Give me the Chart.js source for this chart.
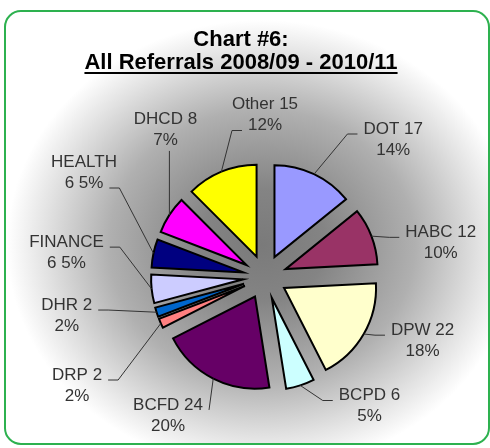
<!DOCTYPE html>
<html>
<head>
	<meta charset="utf-8">
	<title>Chart #6</title>
	<script type="text/javascript" src="https://cdn.jsdelivr.net/npm/chart.js"></script>
	<style type="text/css">
	body { margin: 0; background: #fff; }
	canvas { display: block; }
	</style>
</head>
<body>

<canvas id="myChart" width="490" height="448"></canvas>

<script>
// values, clockwise from 12 o'clock
const categories = ['DOT', 'HABC', 'DPW', 'BCPD', 'BCFD', 'DRP', 'DHR', 'FINANCE', 'HEALTH', 'DHCD', 'Other'];
const referrals = [17, 12, 22, 6, 24, 2, 2, 6, 6, 8, 15];
const percentLabels = [14, 10, 18, 5, 20, 2, 2, 5, 5, 7, 12];
const sliceColors = ['#9999FF', '#993366', '#FFFFCC', '#CCFFFF', '#660066', '#FF8080', '#0066CC', '#CCCCFF', '#000080', '#FF00FF', '#FFFF00'];

const titleLines = ['Chart #6:', 'All Referrals 2008/09 - 2010/11'];

// where the label boxes sit: [clock angle in degrees, distance from pie centre]
const labelSpots = [[43, 188], [79, 179], [112, 170], [141, 166], [215, 169], [240, 217], [259, 202], [277, 200], [300, 209], [326, 178], [0, 162]];
// which text line the leader line hooks onto
const tickLine = [0, 0, 0, 0, 0, 0, 0, 0, 1, 0, 1];

const EXPLODE = 22;
const FONT = '"Liberation Sans", Arial, sans-serif';

function boxPath(ctx, x, y, w, h, r) {
	ctx.beginPath();
	ctx.moveTo(x + r, y);
	ctx.arcTo(x + w, y, x + w, y + h, r);
	ctx.arcTo(x + w, y + h, x, y + h, r);
	ctx.arcTo(x, y + h, x, y, r);
	ctx.arcTo(x, y, x + w, y, r);
	ctx.closePath();
}

const backdrop = {
	id: 'backdrop',
	beforeDraw(chart) {
		const ctx = chart.ctx;
		ctx.save();
		boxPath(ctx, 5, 11, 484, 433, 16);
		ctx.save();
		ctx.clip();
		ctx.translate(262, 245);
		ctx.scale(255, 225);
		const g = ctx.createRadialGradient(0, 0, 0, 0, 0, 1);
		g.addColorStop(0, '#7a7a7a');
		g.addColorStop(0.25, '#848484');
		g.addColorStop(0.6, '#b0b0b0');
		g.addColorStop(0.85, '#e2e2e2');
		g.addColorStop(1, '#ffffff');
		ctx.fillStyle = g;
		ctx.fillRect(-2, -2, 4, 4);
		ctx.restore();
		ctx.strokeStyle = '#2db14f';
		ctx.lineWidth = 2;
		ctx.stroke();

		// title, second line underlined
		ctx.fillStyle = '#000';
		ctx.font = 'bold 22px ' + FONT;
		ctx.textAlign = 'center';
		ctx.textBaseline = 'middle';
		ctx.fillText(titleLines[0], 241, 40);
		ctx.fillText(titleLines[1], 241, 63);
		const w = ctx.measureText(titleLines[1]).width;
		ctx.fillRect(241 - w / 2, 72, w, 2);
		ctx.restore();
	}
};

// push every slice out from the centre by the same distance
const explode = {
	id: 'explode',
	afterDatasetsUpdate(chart) {
		chart.getDatasetMeta(0).data.forEach(arc => {
			const mid = (arc.startAngle + arc.endAngle) / 2;
			arc.x += EXPLODE * Math.cos(mid);
			arc.y += EXPLODE * Math.sin(mid);
		});
	}
};

const sliceLabels = {
	id: 'sliceLabels',
	afterDatasetsDraw(chart) {
		const ctx = chart.ctx;
		const area = chart.chartArea;
		const cx = (area.left + area.right) / 2;
		const cy = (area.top + area.bottom) / 2;
		const lineH = 21;
		ctx.save();
		ctx.font = '17px ' + FONT;
		ctx.fillStyle = '#333';
		ctx.strokeStyle = '#333';
		ctx.lineWidth = 1;
		ctx.textAlign = 'center';
		ctx.textBaseline = 'middle';
		chart.getDatasetMeta(0).data.forEach((arc, i) => {
			const name = categories[i];
			const lines = name.length > 5
				? [name, referrals[i] + ' ' + percentLabels[i] + '%']
				: [name + ' ' + referrals[i], percentLabels[i] + '%'];
			const a = labelSpots[i][0] * Math.PI / 180;
			const bx = cx + labelSpots[i][1] * Math.sin(a);
			const by = cy - labelSpots[i][1] * Math.cos(a);
			const y0 = by - lineH / 2;
			lines.forEach((t, k) => ctx.fillText(t, bx, y0 + k * lineH));

			// leader line from the middle of the slice's rim
			const mid = (arc.startAngle + arc.endAngle) / 2;
			const sx = arc.x + arc.outerRadius * Math.cos(mid);
			const sy = arc.y + arc.outerRadius * Math.sin(mid);
			const k = tickLine[i];
			const half = ctx.measureText(lines[k]).width / 2;
			const ty = y0 + k * lineH + 5;
			let pts;
			if (sx < bx - half - 4) {
				const ax = bx - half - 6;
				pts = ax - sx > 14 ? [[sx, sy], [ax - 10, ty], [ax, ty]] : [[sx, sy], [ax, ty]];
			} else if (sx > bx + half + 4) {
				const ax = bx + half + 6;
				pts = sx - ax > 14 ? [[sx, sy], [ax + 10, ty], [ax, ty]] : [[sx, sy], [ax, ty]];
			} else {
				const ey = sy > by ? y0 + lineH + 11 : y0 - 11;
				pts = [[sx, sy], [sx, ey]];
			}
			ctx.beginPath();
			pts.forEach((p, n) => n ? ctx.lineTo(p[0], p[1]) : ctx.moveTo(p[0], p[1]));
			ctx.stroke();
		});
		ctx.restore();
	}
};

const ctx = document.getElementById('myChart').getContext('2d');
const chart = new Chart(ctx, {
	type: 'pie',
	data: {
		labels: categories,
		datasets: [{
			data: referrals,
			backgroundColor: sliceColors,
			borderColor: '#000',
			borderWidth: 2,
			borderJoinStyle: 'miter'
		}]
	},
	options: {
		responsive: false,
		animation: false,
		radius: 92,
		layout: {
			padding: { top: 106, left: 40, right: 0, bottom: 0 }
		},
		plugins: {
			legend: { display: false },
			tooltip: { enabled: false }
		}
	},
	plugins: [backdrop, explode, sliceLabels]
});
</script>
</body>
</html>
